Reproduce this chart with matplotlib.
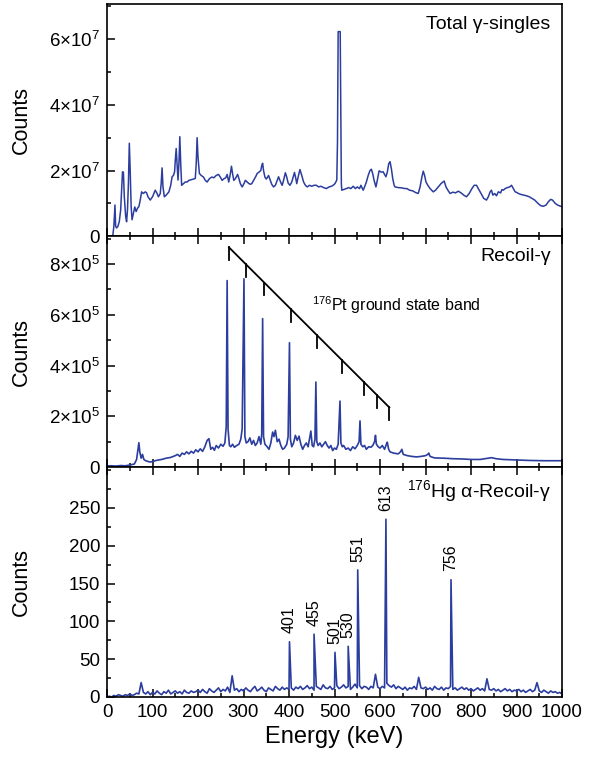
import numpy as np
import matplotlib
matplotlib.use('Agg')
import matplotlib.pyplot as plt
from matplotlib.ticker import MultipleLocator

plt.rcParams['font.family'] = ['Liberation Sans', 'DejaVu Sans']
plt.rcParams['mathtext.fontset'] = 'custom'
plt.rcParams['mathtext.rm'] = 'Liberation Sans'
plt.rcParams['mathtext.it'] = 'Liberation Sans:italic'

line_color = '#2b3d9e'

# ---- Total gamma singles (counts in units of 1e7) ----
singles_e = [13, 15, 17.5, 19, 21, 24, 27, 30, 32, 34, 36, 38, 41, 43, 45, 47, 49, 51, 53, 55,
             58, 61, 64, 67, 70, 73, 76, 80, 84, 87, 90, 95, 100, 106, 110, 113, 117, 119, 121, 123,
             126, 130, 136, 140, 143, 146, 148.5, 150, 152, 154, 156, 158, 160, 162, 164, 168, 172, 176, 180, 185,
             190, 194, 196, 198, 200, 203, 207, 212, 216, 220, 225, 230, 235, 240, 245, 249, 253, 257, 261, 264,
             267.5, 271, 273.5, 276, 278.6, 282, 287, 290, 293, 297, 301, 304, 308, 312, 316, 319, 323, 327, 330, 334,
             338, 340, 342, 344, 347, 350, 353, 355, 359, 362, 366, 370, 374, 377, 380, 383, 385, 388, 392, 395,
             398, 402, 406, 409, 412, 415, 417, 420, 424, 428, 432, 436, 440, 445, 450, 455, 460, 465, 470, 476,
             482, 488, 493, 497, 501, 505, 506.5, 508, 512.5, 513.5, 515, 516, 520, 526, 531, 536, 541, 546, 550, 555,
             558, 563, 566, 570, 574, 578, 581, 584, 587, 591, 594, 598, 603, 607, 610, 613, 616, 619, 622, 625,
             628, 631, 633, 640, 648, 655, 659, 665, 672, 678, 684, 688, 692, 695, 698, 701, 705, 710, 717, 722,
             728, 734, 739, 741, 745, 750, 754, 760, 766, 772, 778, 784, 790, 796, 802, 807, 812, 816, 822, 828,
             834, 838, 842, 845, 848, 852, 856, 860, 865, 868, 871, 875, 880, 885, 889, 893, 897, 901, 904, 910,
             916, 922, 928, 934, 940, 947, 953, 959, 965, 970, 975, 979, 985, 990, 995, 1000]
singles_c = [0.05, 0.3, 0.95, 0.3, 0.25, 0.3, 0.45, 0.8, 1.4, 1.96, 1.95, 1.2, 0.6, 0.44, 0.8, 1.6, 2.83, 1.96, 0.9, 0.5,
             0.7, 0.89, 0.75, 0.85, 0.9, 1.1, 1.35, 1.3, 1.35, 1.32, 1.2, 1.1, 1.2, 1.4, 1.3, 1.2, 1.3, 1.6, 2.08, 1.5,
             1.2, 1.25, 1.35, 1.55, 1.81, 1.85, 1.96, 2.3, 2.67, 2.2, 1.71, 2.2, 3.03, 2.2, 1.55, 1.6, 1.65, 1.65, 1.7, 1.72,
             1.74, 1.76, 2.2, 3.0, 2.4, 1.91, 1.85, 1.8, 1.7, 1.65, 1.75, 1.8, 1.78, 1.85, 1.88, 1.8, 1.7, 1.75, 1.78, 1.88,
             1.65, 1.9, 2.13, 1.9, 1.7, 1.75, 1.88, 1.75, 1.6, 1.5, 1.6, 1.7, 1.65, 1.6, 1.58, 1.62, 1.72, 1.82, 1.91, 1.95,
             2.0, 2.15, 2.22, 2.0, 1.8, 1.74, 1.8, 1.85, 1.7, 1.58, 1.5, 1.55, 1.7, 1.81, 1.7, 1.6, 1.55, 1.7, 1.93, 1.8,
             1.62, 1.55, 1.65, 1.8, 1.94, 1.75, 1.6, 1.8, 2.03, 1.85, 1.65, 1.55, 1.5, 1.55, 1.52, 1.55, 1.55, 1.5, 1.52, 1.48,
             1.45, 1.5, 1.52, 1.55, 1.6, 1.71, 2.87, 6.23, 6.23, 4.35, 1.6, 1.4, 1.42, 1.45, 1.48, 1.45, 1.52, 1.45, 1.5, 1.45,
             1.55, 1.4, 1.5, 1.65, 1.85, 2.0, 2.04, 1.9, 1.7, 1.5, 1.7, 1.99, 1.95, 1.96, 1.88, 1.81, 1.95, 2.2, 2.27, 2.05,
             1.75, 1.55, 1.5, 1.48, 1.47, 1.45, 1.45, 1.4, 1.38, 1.33, 1.3, 1.5, 1.8, 1.98, 1.85, 1.65, 1.55, 1.45, 1.35, 1.4,
             1.5, 1.6, 1.66, 1.68, 1.5, 1.38, 1.3, 1.34, 1.32, 1.37, 1.32, 1.25, 1.2, 1.3, 1.45, 1.55, 1.55, 1.45, 1.3, 1.15,
             1.1, 1.2, 1.35, 1.4, 1.25, 1.3, 1.23, 1.35, 1.32, 1.42, 1.4, 1.45, 1.48, 1.5, 1.55, 1.45, 1.35, 1.33, 1.3, 1.27,
             1.25, 1.23, 1.2, 1.15, 1.1, 1.0, 0.93, 0.91, 0.95, 1.05, 1.12, 1.1, 1.0, 0.95, 0.92, 0.9]

# ---- Recoil-gamma (counts in units of 1e5) ----
recoil_e = [0, 10, 20, 30, 40, 50, 60, 65, 68, 70, 72, 75, 78, 81, 85, 90, 95, 100, 110, 120,
            130, 140, 150, 155, 160, 165, 170, 175, 180, 185, 190, 195, 200, 205, 210, 215, 220, 224, 228, 232,
            236, 240, 245, 250, 255, 259, 262, 264, 266, 269, 272, 276, 280, 285, 290, 294, 297, 301, 303, 306,
            310, 314, 318, 322, 326, 330, 334, 338, 340, 342, 344, 347, 352, 356, 360, 364, 367, 370, 374, 378,
            382, 386, 390, 395, 398, 401, 403, 406, 410, 414, 418, 422, 426, 430, 434, 438, 442, 446, 448, 451,
            454, 457, 459, 461, 464, 468, 472, 476, 480, 484, 488, 492, 496, 500, 504, 508, 512, 514, 517, 520,
            525, 530, 535, 540, 545, 550, 554, 556, 558, 562, 566, 570, 575, 580, 584, 588, 590, 592, 596, 600,
            605, 610, 614, 616, 619, 622, 630, 640, 645, 648, 651, 660, 670, 680, 690, 700, 705, 707, 710, 720,
            740, 760, 780, 800, 820, 835, 845, 855, 870, 900, 930, 960, 1000]
recoil_c = [0.05, 0.05, 0.04, 0.06, 0.05, 0.08, 0.12, 0.3, 0.7, 0.96, 0.6, 0.35, 0.5, 0.3, 0.25, 0.22, 0.2, 0.22, 0.27, 0.3,
            0.35, 0.38, 0.45, 0.5, 0.42, 0.55, 0.5, 0.6, 0.52, 0.62, 0.55, 0.68, 0.6, 0.72, 0.62, 0.8, 1.05, 1.12, 0.7, 0.78,
            0.66, 0.85, 0.75, 0.9, 0.82, 0.95, 1.6, 7.35, 1.5, 0.85, 0.8, 0.9, 0.78, 0.85, 0.9, 1.1, 1.5, 7.42, 1.2, 0.95,
            1.0, 1.15, 0.9, 1.05, 0.85, 0.95, 1.2, 0.9, 1.3, 5.85, 1.2, 0.9, 0.8, 0.7, 0.95, 1.38, 1.2, 1.45, 1.0, 1.1,
            0.85, 0.7, 0.75, 0.9, 1.2, 4.9, 1.1, 0.8, 0.95, 1.25, 1.05, 1.22, 0.9, 0.7, 0.85, 0.95, 0.8, 1.2, 1.42, 0.85,
            0.8, 1.1, 3.35, 1.0, 0.85, 0.95, 0.8, 0.9, 1.0, 0.85, 0.75, 0.85, 0.65, 0.75, 0.7, 0.9, 2.6, 0.95, 0.8, 0.85,
            0.7, 0.75, 0.65, 0.8, 0.72, 0.85, 1.0, 1.82, 0.9, 0.8, 0.85, 0.7, 0.8, 0.78, 0.85, 1.0, 1.25, 0.9, 0.8, 0.75,
            0.85, 0.7, 0.9, 0.98, 0.7, 0.6, 0.55, 0.52, 0.6, 0.7, 0.5, 0.45, 0.42, 0.4, 0.42, 0.45, 0.5, 0.55, 0.42, 0.36,
            0.35, 0.33, 0.32, 0.3, 0.3, 0.34, 0.37, 0.33, 0.3, 0.28, 0.26, 0.25, 0.25]

# 176Pt ground-state band markers (energies of the comb teeth, keV)
band_e = [268, 305, 346, 404, 461, 517, 565, 594, 620.5]
band_top = 8.66   # 1e5 counts, left end of the comb
band_bottom = 2.35  # 1e5 counts, right end of the comb

# ---- 176Hg alpha-recoil-gamma (counts) ----
ar_base = [0, 1, 0, 2, 1, 3, 2, 1, 3, 2, 4, 2, 3, 5, 4, 19, 6, 4, 7, 3,
           6, 4, 8, 5, 3, 7, 5, 9, 4, 6, 8, 5, 7, 4, 9, 6, 5, 8, 6, 7,
           9, 6, 10, 7, 5, 11, 8, 6, 9, 12, 7, 10, 8, 13, 6, 28, 9, 11, 7, 10,
           8, 12, 9, 7, 11, 14, 8, 10, 13, 9, 7, 12, 10, 8, 14, 11, 9, 13, 10, 12,
           10, 12, 9, 13, 11, 14, 10, 12, 15, 11, 13, 9, 14, 12, 10, 16, 12, 11, 14, 10,
           12, 15, 11, 13, 16, 12, 14, 10, 13, 17, 12, 15, 11, 14, 13, 10, 14, 12, 30, 13,
           11, 14, 12, 18, 15, 13, 16, 11, 14, 12, 10, 13, 9, 12, 11, 14, 10, 26, 12, 11,
           13, 10, 12, 9, 14, 11, 10, 13, 9, 12, 11, 14, 10, 12, 9, 11, 13, 10, 12, 9,
           11, 8, 10, 12, 9, 11, 8, 24, 10, 9, 11, 8, 10, 7, 9, 11, 8, 10, 7, 9,
           8, 10, 7, 9, 6, 8, 10, 7, 9, 19, 8, 6, 9, 7, 5, 8, 6, 7, 5, 6, 4]
ar_base_e = list(range(0, 1001, 5))
peak_e = [401, 455, 501, 530, 551, 613, 756]
peak_c = [73, 83, 59, 67, 168, 235, 155]

ar_e = np.array(ar_base_e + peak_e, dtype=float)
ar_c = np.array(ar_base + peak_c, dtype=float)
order = np.argsort(ar_e, kind='stable')
ar_e, ar_c = ar_e[order], ar_c[order]

fig = plt.figure(figsize=(5.89, 7.57), dpi=100)
left, width = 0.1817, 0.7725
ax1 = fig.add_axes([left, 0.688, width, 0.3067])
ax2 = fig.add_axes([left, 0.383, width, 0.305])
ax3 = fig.add_axes([left, 0.0793, width, 0.3037])

ax1.plot(singles_e, np.array(singles_c) * 1e7, color=line_color, lw=1.1)
ax2.plot(recoil_e, np.array(recoil_c) * 1e5, color=line_color, lw=1.2)
ax3.plot(ar_e, ar_c, color=line_color, lw=1.2)

# comb for the ground-state band
band_y = np.interp(band_e, [band_e[0], band_e[-1]], [band_top, band_bottom]) * 1e5
ax2.plot([band_e[0], band_e[-1]], [band_y[0], band_y[-1]], color='black', lw=1.3)
for e, y in zip(band_e, band_y):
    ax2.plot([e, e], [y, y - 0.5e5], color='black', lw=1.3)
ax2.text(450, 6.4e5, r'$^{176}$Pt ground state band', fontsize=11.5, va='center')

for e, c in zip(peak_e, peak_c):
    ax3.annotate(str(e), (e, c), xytext=(0, 6), textcoords='offset points',
                 rotation=90, ha='center', va='bottom', fontsize=11.5)

ax1.text(0.975, 0.95, 'Total γ-singles', transform=ax1.transAxes, ha='right', va='top', fontsize=14)
ax2.text(0.975, 0.95, 'Recoil-γ', transform=ax2.transAxes, ha='right', va='top', fontsize=14)
ax3.text(0.975, 0.95, r'$^{176}$Hg α-Recoil-γ', transform=ax3.transAxes, ha='right', va='top', fontsize=14)

ax1.set_ylim(0, 7.07e7)
ax1.set_yticks([0, 2e7, 4e7, 6e7])
ax1.set_yticklabels(['0', r'2$\times$10$^7$', r'4$\times$10$^7$', r'6$\times$10$^7$'])
ax1.yaxis.set_minor_locator(MultipleLocator(1e7))

ax2.set_ylim(0, 9.1e5)
ax2.set_yticks([0, 2e5, 4e5, 6e5, 8e5])
ax2.set_yticklabels(['0', r'2$\times$10$^5$', r'4$\times$10$^5$', r'6$\times$10$^5$', r'8$\times$10$^5$'])
ax2.yaxis.set_minor_locator(MultipleLocator(1e5))

ax3.set_ylim(0, 304)
ax3.set_yticks([0, 50, 100, 150, 200, 250])
ax3.yaxis.set_minor_locator(MultipleLocator(25))

for ax in (ax1, ax2, ax3):
    ax.set_xlim(0, 1000)
    ax.xaxis.set_major_locator(MultipleLocator(100))
    ax.xaxis.set_minor_locator(MultipleLocator(50))
    ax.tick_params(which='both', direction='in', top=(ax is not ax1), right=False, labelsize=13.5, width=1.1)
    ax.tick_params(which='major', length=6, pad=5)
    ax.tick_params(which='minor', length=3)
    ax.set_ylabel('Counts', fontsize=15.5)
    ax.yaxis.set_label_coords(-0.165, 0.5)
    for s in ax.spines.values():
        s.set_linewidth(1.2)
    if ax is not ax3:
        ax.tick_params(labelbottom=False)

ax3.set_xlabel('Energy (keV)', fontsize=17, labelpad=4)

fig.savefig('out.png', dpi=100)
